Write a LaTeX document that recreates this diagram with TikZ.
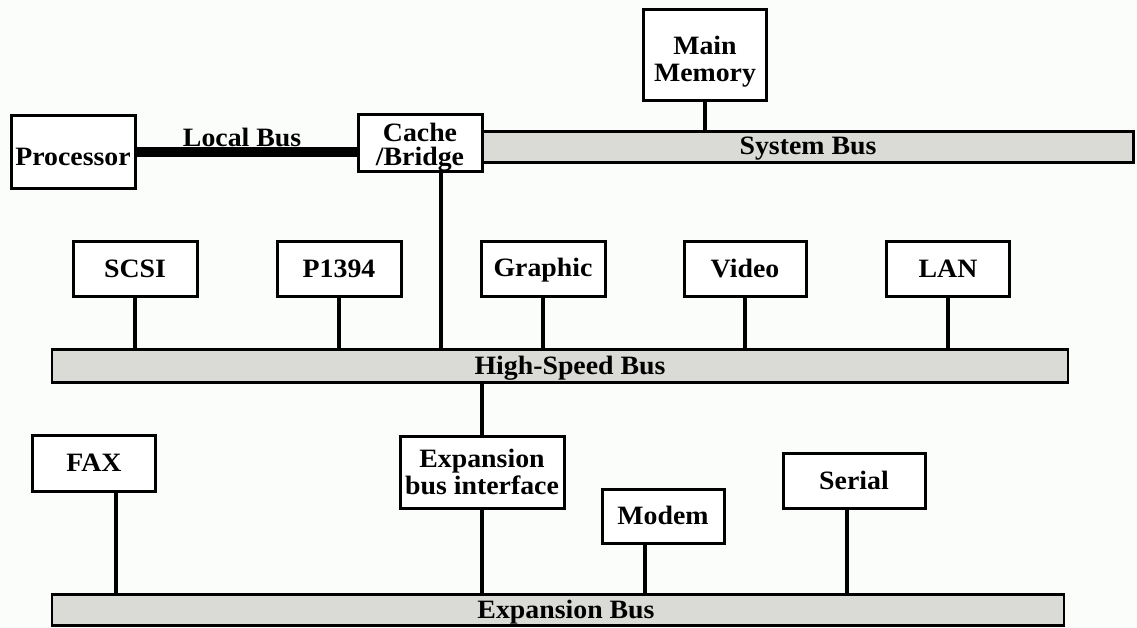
\documentclass[tikz,border=0pt]{standalone}
\usepackage{fontspec}
\setmainfont{Liberation Serif}[FakeStretch=1.05]
\definecolor{busgray}{RGB}{218,219,214}
\definecolor{bgc}{RGB}{251,253,250}
\newcommand{\dfont}{\bfseries\fontsize{26.5}{27}\selectfont}
\newcommand{\cs}{\rule[-2.5pt]{0pt}{22.5pt}}
\tikzset{
  dev/.style={draw=black, line width=3pt, fill=white, inner sep=0pt, align=center,
    font=\dfont},
  bus/.style={draw=black, line width=2.5pt, fill=busgray, inner sep=0pt},
  buslabel/.style={font=\dfont, inner sep=0pt, anchor=base},
  link/.style={line width=4.8pt},
  lbus/.style={line width=10pt},
}
\begin{document}
\begin{tikzpicture}[x=1pt,y=-1pt]
\fill[bgc] (0,0) rectangle (1137,628);
\useasboundingbox (0,0) rectangle (1137,628);
% buses
\node[bus, minimum width=651, minimum height=31] (sysbus) at (808,147) {};
\node[bus, minimum width=1016, minimum height=33] (hsbus) at (560,366) {};
\node[bus, minimum width=1012, minimum height=31] (expbus) at (558,610) {};
% devices
\node[dev, minimum width=124, minimum height=73] (proc) at (73,152) {\cs\rule{0pt}{30pt}Processor};
\node[dev, minimum width=124, minimum height=54] (cache) at (420,143) {\cs\rule{0pt}{27pt}Cache\\[-3pt]\cs /Bridge};
\node[dev, minimum width=123, minimum height=91] (mem) at (705,55) {\cs\rule{0pt}{32pt}Main\\\cs Memory};
\node[dev, minimum width=124, minimum height=55] (scsi) at (135,269) {\cs SCSI};
\node[dev, minimum width=124, minimum height=55] (p1394) at (339,269) {\cs P1394};
\node[dev, minimum width=124, minimum height=55] (graphic) at (543,269) {\cs Graphic};
\node[dev, minimum width=122, minimum height=55] (video) at (745,269) {\cs Video};
\node[dev, minimum width=123, minimum height=55] (lan) at (948,269) {\cs LAN};
\node[dev, minimum width=123, minimum height=56] (fax) at (94,463) {\cs FAX};
\node[dev, minimum width=164, minimum height=72] (ebi) at (482,472) {\cs Expansion\\\cs bus interface};
\node[dev, minimum width=122, minimum height=54] (modem) at (663,516) {\cs Modem};
\node[dev, minimum width=142, minimum height=55] (serial) at (854,481) {\cs Serial};
% bus labels
\node[buslabel] at ([yshift=-8]sysbus.center) {System Bus};
\node[buslabel] at ([xshift=10,yshift=-8]hsbus.center) {High-Speed Bus};
\node[buslabel] at ([xshift=8,yshift=-8]expbus.center) {Expansion Bus};
% helper coordinates for off-centre drops
\coordinate (cx) at (441,0);
\coordinate (fx) at (116,0);
\coordinate (mx) at (645,0);
\coordinate (sx) at (847,0);
% connectors
\draw[lbus] (proc.east) -- (proc.east -| cache.west)
  node[pos=0.48, anchor=base, yshift=5, inner sep=0pt, font=\dfont] {Local Bus};
\draw[link] (mem.south) -- (mem.south |- sysbus.north);
\draw[link] (cache.south -| cx) -- (hsbus.north -| cx);
\draw[link] (scsi.south) -- (scsi.south |- hsbus.north);
\draw[link] (p1394.south) -- (p1394.south |- hsbus.north);
\draw[link] (graphic.south) -- (graphic.south |- hsbus.north);
\draw[link] (video.south) -- (video.south |- hsbus.north);
\draw[link] (lan.south) -- (lan.south |- hsbus.north);
\draw[link] (hsbus.south -| ebi.north) -- (ebi.north);
\draw[link] (ebi.south) -- (ebi.south |- expbus.north);
\draw[link] (fax.south -| fx) -- (expbus.north -| fx);
\draw[link] (modem.south -| mx) -- (expbus.north -| mx);
\draw[link] (serial.south -| sx) -- (expbus.north -| sx);
\end{tikzpicture}
\end{document}
